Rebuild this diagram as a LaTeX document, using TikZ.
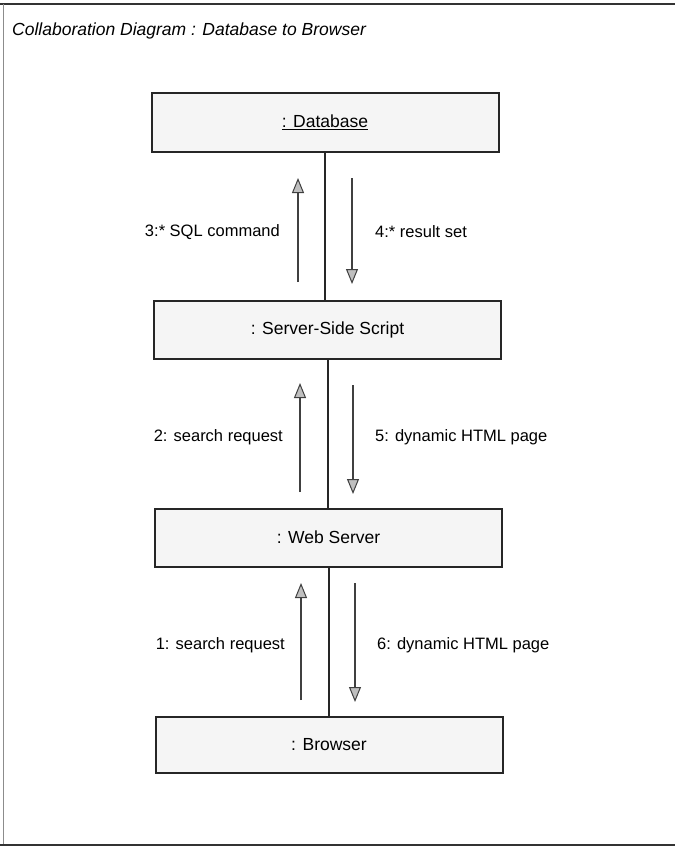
\documentclass[tikz,border=0pt]{standalone}
\usepackage{fontspec}
\setmainfont{Liberation Sans}
\usetikzlibrary{arrows.meta}
\begin{document}
\begin{tikzpicture}[x=1pt,y=-1pt,
  obj/.style={draw=black!85, line width=2pt, fill=black!4, minimum width=347pt, minimum height=58pt, inner sep=0pt, font=\fontsize{17.5}{20}\selectfont},
  lbl/.style={font=\fontsize{16.5}{19}\selectfont, inner sep=0pt},
  link/.style={draw=black!85, line width=2pt},
  msg/.style={draw=black!75, line width=2pt, -{Triangle[open, fill=black!25, length=15pt, width=12pt, line width=1pt]}}]
\useasboundingbox (0,0) rectangle (675,848);
% frame
\draw[black!80, line width=2pt] (0,4) -- (675,4);
\draw[black!45, line width=1pt] (3,4) -- (3,845);
\draw[black!80, line width=2pt] (0,845) -- (675,845);
\node[anchor=west, font=\fontsize{17.5}{20}\selectfont\itshape, inner sep=0pt] (title) at (12,31) {Collaboration Diagram : Database to Browser};
% objects
\node[obj] (db) at (325,122.5) {\underline{: Database}};
\node[obj] (srv) at (327.5,330) {: Server-Side Script};
\node[obj] (web) at (328.5,537.5) {: Web Server};
\node[obj, minimum height=56pt] (br) at (329,745) {: Browser};
% links
\draw[link] (db.south) -- (db.south |- srv.north);
\draw[link] (srv.south) -- (srv.south |- web.north);
\draw[link] (web.south) -- (web.south |- br.north);
% message anchors
\coordinate (a3s) at (298,282); \coordinate (a3e) at (298,178);
\coordinate (a4s) at (352,178); \coordinate (a4e) at (352,284);
\coordinate (a2s) at (300,492); \coordinate (a2e) at (300,383);
\coordinate (a5s) at (353,385); \coordinate (a5e) at (353,494);
\coordinate (a1s) at (301,700); \coordinate (a1e) at (301,583);
\coordinate (a6s) at (355,583); \coordinate (a6e) at (355,702);
\draw[msg] (a3s) -- (a3e);
\draw[msg] (a4s) -- (a4e);
\draw[msg] (a2s) -- (a2e);
\draw[msg] (a5s) -- (a5e);
\draw[msg] (a1s) -- (a1e);
\draw[msg] (a6s) -- (a6e);
% labels
\node[lbl, anchor=east] (l3) at (280,232) {3:* SQL command};
\node[lbl, anchor=west] (l4) at (375,232) {4:* result set};
\node[lbl, anchor=east] (l2) at (283,437) {2: search request};
\node[lbl, anchor=west] (l5) at (375,437) {5: dynamic HTML page};
\node[lbl, anchor=east] (l1) at (285,645) {1: search request};
\node[lbl, anchor=west] (l6) at (377,645) {6: dynamic HTML page};
\end{tikzpicture}
\end{document}
